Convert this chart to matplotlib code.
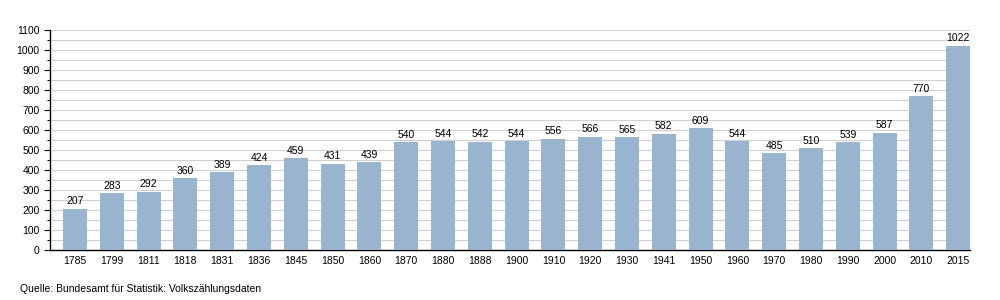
import matplotlib.pyplot as plt
import numpy as np

plt.rcParams['font.family'] = ['Liberation Sans', 'DejaVu Sans']

# --- Daten ---
jahre = ['1785', '1799', '1811', '1818', '1831', '1836', '1845', '1850', '1860',
         '1870', '1880', '1888', '1900', '1910', '1920', '1930', '1941', '1950',
         '1960', '1970', '1980', '1990', '2000', '2010', '2015']
einwohner = [207, 283, 292, 360, 389, 424, 459, 431, 439, 540, 544, 542, 544,
             556, 566, 565, 582, 609, 544, 485, 510, 539, 587, 770, 1022]
quelle = 'Quelle: Bundesamt für Statistik: Volkszählungsdaten'

fig = plt.figure(figsize=(10, 3), dpi=100)
ax = fig.add_axes([0.05, 0.1667, 0.92, 0.7333])

x = np.arange(len(jahre))
ax.bar(x, einwohner, width=0.65, color='#99b4cf', zorder=3)

for xi, v in zip(x, einwohner):
    ax.text(xi, v + 12, str(v), ha='center', va='bottom', fontsize=7.5, zorder=4)

ax.set_xlim(-0.68, len(jahre) - 1 + 0.32)
ax.set_ylim(0, 1100)
ax.set_xticks(x)
ax.set_xticklabels(jahre, fontsize=7.5)
ax.set_yticks(np.arange(0, 1101, 100))
ax.set_yticks(np.arange(50, 1100, 100), minor=True)
ax.tick_params(axis='y', labelsize=7.5, length=4, width=0.8)
ax.tick_params(axis='y', which='minor', length=2.5, width=0.8)
ax.tick_params(axis='x', length=0, pad=4)

ax.grid(axis='y', which='both', color='#d0d0d0', linewidth=0.8, zorder=0)
for s in ['top', 'right']:
    ax.spines[s].set_visible(False)
ax.spines['left'].set_linewidth(1.0)
ax.spines['bottom'].set_linewidth(1.0)

fig.text(0.02, 0.037, quelle, fontsize=7.5, ha='left', va='center')

plt.savefig('out.png', dpi=100)
